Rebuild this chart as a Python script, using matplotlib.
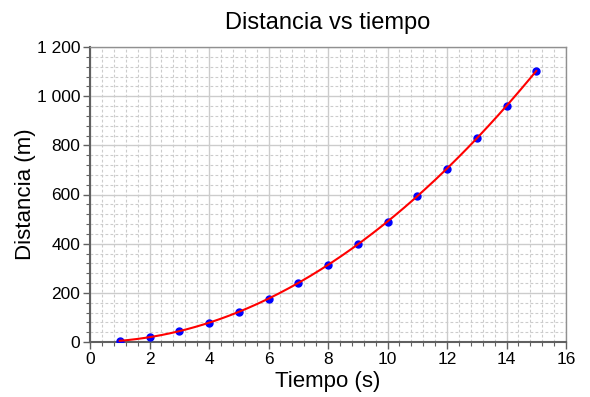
import matplotlib
matplotlib.use("Agg")
import matplotlib.pyplot as plt
from matplotlib.ticker import MultipleLocator, FuncFormatter
import numpy as np

plt.rcParams['font.family'] = ['Liberation Sans', 'DejaVu Sans']

# datos
tiempo = [1, 2, 3, 4, 5, 6, 7, 8, 9, 10, 11, 12, 13, 14, 15]
distancia = [4.9, 19.6, 44.1, 78.4, 122.5, 176.4, 240.1, 313.6, 396.9,
             490.0, 592.9, 705.6, 828.1, 960.4, 1102.5]

fig = plt.figure(figsize=(5.9, 3.97), dpi=100)
ax = fig.add_axes([90/590, 1 - 342/397, (566-90)/590, (342-47)/397])

# curva ajustada (cuadratica)
coef = np.polyfit(tiempo, distancia, 2)
tt = np.linspace(tiempo[0], tiempo[-1], 200)
ax.plot(tiempo, distancia, 'o', color='#0000ff', markersize=5, zorder=3)
ax.plot(tt, np.polyval(coef, tt), color='#ff0000', lw=1.5, zorder=4)

ax.set_xlim(0, 16)
ax.set_ylim(0, 1200)
ax.xaxis.set_major_locator(MultipleLocator(2))
ax.xaxis.set_minor_locator(MultipleLocator(0.4))
ax.yaxis.set_major_locator(MultipleLocator(200))
ax.yaxis.set_minor_locator(MultipleLocator(40))
ax.yaxis.set_major_formatter(FuncFormatter(lambda v, p: f"{int(v):,}".replace(",", " ")))

ax.grid(which='major', color='#cccccc', lw=1, ls='-')
ax.grid(which='minor', color='#cccccc', lw=0.8, ls=(0, (2.5, 2)))
ax.set_axisbelow(True)

for s in ['left', 'bottom']:
    ax.spines[s].set_color('#606060')
    ax.spines[s].set_linewidth(1.5)
for s in ['top', 'right']:
    ax.spines[s].set_color('#909090')
    ax.spines[s].set_linewidth(1)

ax.tick_params(which='major', direction='out', length=5, width=1, color='#606060',
               labelsize=12.5, pad=2)
ax.tick_params(which='minor', direction='out', length=3, width=0.8, color='#606060')

ax.set_title('Distancia vs tiempo', fontsize=17, pad=13)
ax.set_xlabel('Tiempo (s)', fontsize=16, labelpad=3)
ax.set_ylabel('Distancia (m)', fontsize=16, labelpad=0.5)

fig.savefig('out.png', dpi=100)
